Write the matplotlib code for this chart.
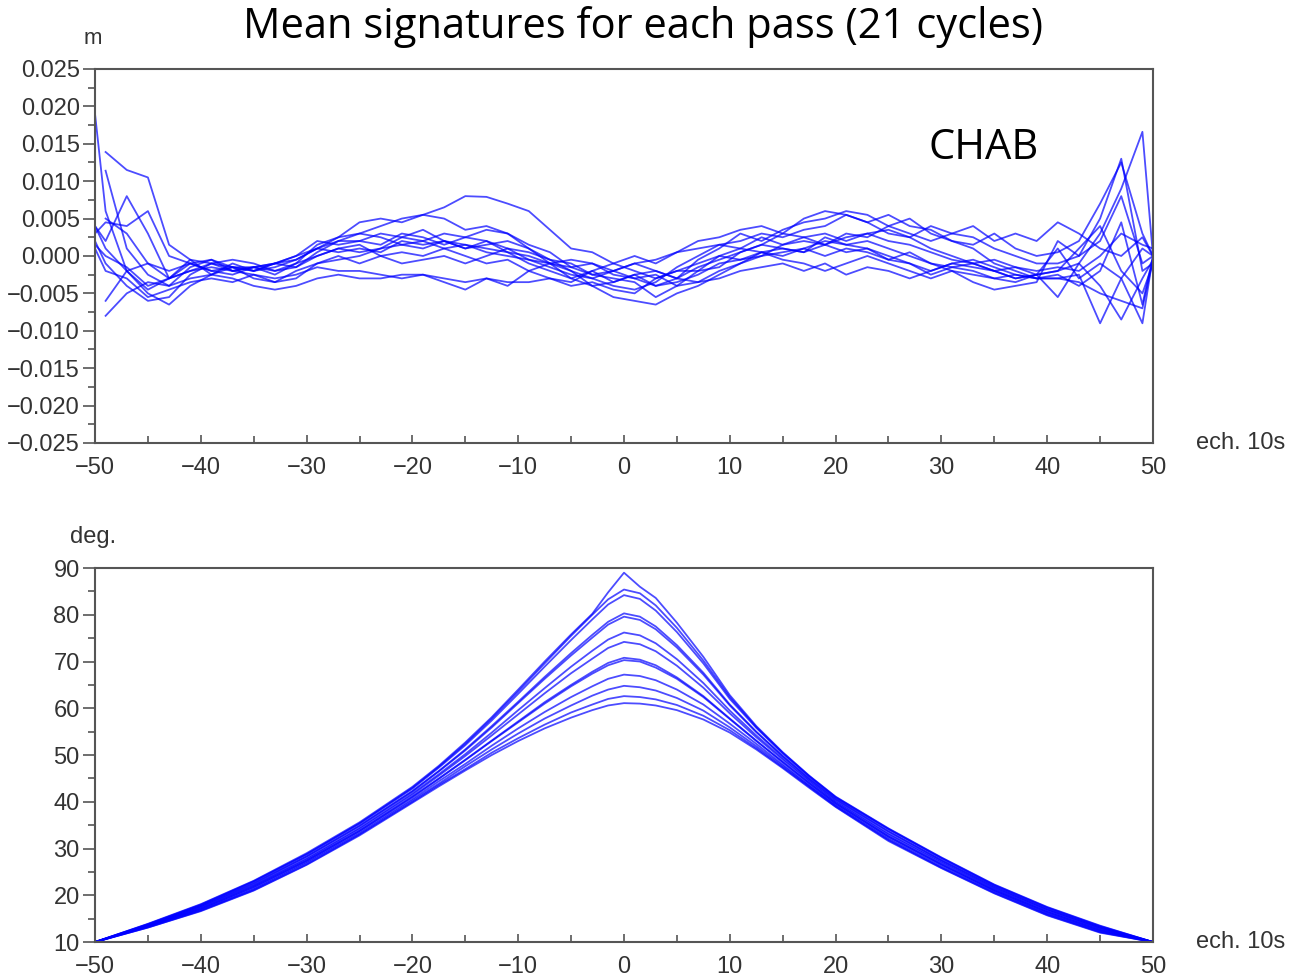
import numpy as np
import matplotlib.pyplot as plt
from matplotlib.ticker import MultipleLocator

plt.rcParams['font.family'] = ['Liberation Sans', 'DejaVu Sans']

# ---- top panel: mean signature (mm), one list per pass ----
x_sig = [-50, -49, -47, -45, -43, -41, -39, -37, -35, -33, -31, -29, -27,
         -25, -23, -21, -19, -17, -15, -13, -11, -9, -7, -5, -3, -1,
         1, 3, 5, 7, 9, 11, 13, 15, 17, 19, 21, 23, 25,
         27, 29, 31, 33, 35, 37, 39, 41, 43, 45, 47, 49, 50]
nan = np.nan
sig_mm = [
    [19, 6, -2, -4.5, -3, -1, -0.5, -1.5, -1.5, -2.5, -1, 1.5, 2.5,
     3, 2.5, 1.5, 2, 3, 2.5, 2, 1, 0.5, -0.5, -2, -3, -4,
     -4.5, -3.5, -1.5, 0, 1.5, 2, 3, 2.5, 3.5, 4, 5.5, 4.5, 3,
     2.5, 1, 0, -1, -0.5, -1.5, -2.5, -2, -1, 3, 9, 16.6, 0],
    [nan, 13.9, 11.5, 10.5, 1.5, -0.5, -1, -2, -1.5, -1, -0.5, 1, 2,
     2, 1.5, 3, 2.5, 1.5, 2.5, 3.5, 3, 1.5, 0.5, -1.5, -2.5, -3,
     -3.5, -5.5, -4, -2, 0, 1, 2.5, 1.5, 2.5, 1.5, 3, 2.5, 4,
     3, 2, 3, 2.5, 1, 0, -1, -1, 0, 5, 13, -2, -1],
    [4, 2, 8, 3, -3, -0.5, -2.5, -1, -2, -1, -1.5, 0.5, 2,
     3, 4, 5, 5.5, 5, 3.5, 4, 3, 1, -1, -3, -2, -3.5,
     -2.5, -4, -3, -0.5, 1, 3, 2, 3.5, 4.5, 5, 6, 5.5, 4,
     5, 3, 2, 1.5, 3, 1, 0, 0.5, 2, 7, 12.5, 3, 0],
    [2, -1, -4, -6, -5.5, -2.5, -1, -0.5, -1, -2, -1, 0, 1,
     0.5, 1, 2.5, 2, 1, 1.5, 0.5, 0, -0.5, -1, -2, -4, -5.5,
     -6, -6.5, -5, -4, -2.5, -1, 0, 0.5, 1, 2, 1.5, 2, 1,
     0, -1, -2, -2.5, -3, -2.5, -3, -3, -2.5, -9, -3, -9, 0],
    [nan, 11.4, 1, -2.5, -4, -1.5, -0.5, -2, -2.5, -3.5, -3, -1, -0.5,
     0, 1, 1.5, 1, 2, 1, 2, 0.5, -1, -2, -3, -4, -3.5,
     -2.5, -2, -3, -1.5, -0.5, 0.5, 1.5, 1, 0.5, 2.5, 1.5, 1, -0.5,
     0.5, -1, -1.5, -2, -3, -3.5, -2.5, -2, 1, 4, -2, -5, -1],
    [1.5, 0, -1.5, -4, -3, -2, -1, -1.5, -2, -1, 0, 2, 1.5,
     2, 3, 2.5, 3.5, 2, 1.5, 1, 0.5, 0, -1, -1.5, -1, -2,
     -1, -0.5, 0.5, 2, 2.5, 3.5, 4, 3, 2.5, 3, 2, 3, 3.5,
     2.5, 4, 3, 4, 2, 3, 2, 4.5, 3, 1, 0, 2.5, 0],
    [nan, -6, -2, -5, -6.5, -4, -2.5, -1.5, -3, -3.5, -2, -1, 0,
     -1, 0, 0.5, 0, 1, 0, -1, -0.5, -2, -3, -4, -3.5, -4.5,
     -5, -3, -2, -1, 0, -0.5, 0.5, 1, 0.5, 1.5, 0.5, 1, 0,
     -1, -2.5, -1.5, -1, -2, -3, -2.5, -5.5, -1, -4, -8.5, -3, -0.5],
    [nan, -8, -5, -3.5, -4, -3, -2.5, -3, -4, -4.5, -4, -3, -2.5,
     -3, -3, -2.5, -2.5, -3, -3.5, -3, -3.5, -3.5, -3, -3.5, -2, -1,
     0, -1, 0.5, 1, 1.5, 1, 0.5, -0.5, -1, -2, -1, 0, -1,
     -2, -3, -2, -3.5, -4.5, -4, -3.5, 2, 0, 2, 8, -1, 0],
    [3, 4.5, 4, 6, 0, -1, -2, -1.5, -2, -1.5, -0.5, 1, 2.5,
     4.5, 5, 4.5, 5.5, 6.5, 8, 7.9, 7, 6, 3.5, 1, 0.5, -1,
     -2, -3, -2, -2, -1.5, 0.5, 1.5, 3, 5, 6, 5.5, 4.5, 5.5,
     4, 3.5, 2, 1, -1, -2, -3, -3, -3.5, -5, -6, -7, -0.5],
    [4, 1, -2, -1, -3, -2, -1.5, -2, -1.5, -1, 0, 1, 0.5,
     1, 0.5, 2, 1.5, 2, 1, 1.5, 2, 1, -0.5, -1, -2.5, -2,
     -3, -4, -3.5, -2.5, -1, -0.5, 0, 1.5, 2, 1.5, 2.5, 3, 2,
     1.5, 0.5, -0.5, -1, -2, -1.5, -2, -1.5, -2, 0, 3, 1.5, 1],
    [nan, 5, 3, -1, -2, -1, -2, -2.5, -1.5, -2, -1.5, 0, 1,
     1.5, 0, -1, -0.5, 0, -1, 0, 1, -0.5, -1.5, -2.5, -3, -2,
     -1, -2, -3, -3.5, -2, -1, 0.5, 0, 1, 0, 1, 0.5, -0.5,
     -1, -2, -1, -0.5, -1.5, -2.5, -3, -2.5, -4, -2, 4.5, -6.5, 0],
    [1, -2, -3, -5.5, -4.5, -3.5, -3, -3.5, -2.5, -3, -2.5, -1.5, -2,
     -2, -2.5, -3, -2.5, -3.5, -4.5, -3, -4, -2, -1, -0.5, -1, -2.5,
     -3, -2.5, -4, -3.5, -3, -2, -1.5, -1, -2, -1, -2.5, -1.5, -2,
     -3, -2, -1, -1.5, -2, -3, -2.5, 1, -3, -1, -3, 1, 0],
]

# ---- bottom panel: elevation (deg), one list per pass ----
x_elev = [-50, -45, -40, -35, -30, -25, -20, -17.5, -15, -12.5, -10, -7.5, -5, -3, -1.5, 0,
          1.5, 3, 5, 7.5, 10, 12.5, 15, 17.5, 20, 25, 30, 35, 40, 45, 50]
elev = [
    [10, 13.9, 18.1, 23.1, 29.0, 35.6, 43.2, 47.7, 52.7, 58.1, 64.0, 70.0, 75.8, 80.2, 84.8, 89.0,
     86.0, 83.6, 78.3, 71.0, 62.8, 56.2, 50.6, 45.6, 41.1, 34.3, 28.1, 22.3, 17.5, 13.5, 10],
    [10, 13.8, 18.0, 23.0, 28.8, 35.4, 43.0, 47.5, 52.4, 57.8, 63.6, 69.6, 75.5, 80.0, 83.3, 85.4,
     84.6, 82.0, 77.2, 70.2, 62.4, 56.0, 50.5, 45.5, 41.0, 34.2, 28.0, 22.2, 17.4, 13.4, 10],
    [10, 13.8, 17.9, 22.9, 28.7, 35.3, 42.8, 47.3, 52.1, 57.4, 63.1, 68.9, 74.6, 79.0, 82.2, 84.2,
     83.4, 80.9, 76.3, 69.6, 62.0, 55.8, 50.3, 45.4, 40.9, 34.1, 27.9, 22.1, 17.3, 13.3, 10],
    [10, 13.7, 17.7, 22.6, 28.3, 34.9, 42.3, 46.6, 51.2, 56.2, 61.4, 66.7, 71.8, 75.7, 78.5, 80.3,
     79.6, 77.5, 73.5, 67.6, 60.8, 55.0, 49.8, 45.0, 40.6, 33.7, 27.5, 21.8, 17.0, 13.1, 10],
    [10, 13.6, 17.7, 22.5, 28.3, 34.8, 42.2, 46.5, 51.0, 55.9, 61.1, 66.3, 71.3, 75.1, 77.9, 79.6,
     78.9, 76.9, 73.0, 67.2, 60.6, 54.9, 49.7, 44.9, 40.5, 33.6, 27.5, 21.8, 17.0, 13.1, 10],
    [10, 13.5, 17.5, 22.2, 27.9, 34.4, 41.8, 45.9, 50.2, 54.8, 59.6, 64.3, 68.9, 72.3, 74.7, 76.2,
     75.6, 73.9, 70.5, 65.4, 59.5, 54.2, 49.3, 44.6, 40.2, 33.2, 27.2, 21.5, 16.8, 12.9, 10],
    [10, 13.5, 17.4, 22.1, 27.7, 34.2, 41.5, 45.6, 49.8, 54.2, 58.7, 63.2, 67.5, 70.6, 72.9, 74.2,
     73.7, 72.2, 69.1, 64.4, 58.9, 53.8, 49.0, 44.4, 40.0, 33.0, 27.0, 21.4, 16.6, 12.8, 10],
    [10, 13.4, 17.2, 21.8, 27.4, 33.8, 41.1, 45.0, 49.0, 53.1, 57.2, 61.3, 65.0, 67.8, 69.7, 70.8,
     70.4, 69.2, 66.6, 62.6, 57.8, 53.1, 48.5, 44.0, 39.7, 32.6, 26.7, 21.1, 16.4, 12.6, 10],
    [10, 13.4, 17.1, 21.8, 27.4, 33.8, 41.0, 44.9, 48.9, 53.0, 57.0, 61.0, 64.7, 67.4, 69.2, 70.3,
     70.0, 68.7, 66.3, 62.4, 57.7, 53.0, 48.5, 44.0, 39.7, 32.6, 26.6, 21.1, 16.4, 12.5, 10],
    [10, 13.3, 17.0, 21.5, 27.1, 33.5, 40.6, 44.4, 48.1, 52.0, 55.7, 59.2, 62.4, 64.7, 66.3, 67.2,
     66.9, 66.0, 64.0, 60.8, 56.7, 52.4, 48.0, 43.6, 39.4, 32.3, 26.4, 20.9, 16.1, 12.4, 10],
    [10, 13.2, 16.8, 21.3, 26.9, 33.2, 40.3, 43.9, 47.6, 51.2, 54.6, 57.8, 60.6, 62.7, 64.0, 64.8,
     64.5, 63.8, 62.2, 59.5, 55.9, 51.9, 47.7, 43.4, 39.2, 32.0, 26.1, 20.7, 16.0, 12.2, 10],
    [10, 13.1, 16.7, 21.1, 26.6, 33.0, 40.0, 43.6, 47.0, 50.5, 53.6, 56.5, 59.1, 60.8, 62.0, 62.6,
     62.4, 61.9, 60.7, 58.4, 55.3, 51.5, 47.4, 43.2, 39.0, 31.8, 25.9, 20.5, 15.8, 12.1, 10],
    [10, 13.1, 16.6, 21.0, 26.5, 32.8, 39.8, 43.3, 46.7, 50.0, 53.0, 55.7, 58.0, 59.6, 60.6, 61.1,
     61.0, 60.6, 59.6, 57.6, 54.8, 51.2, 47.2, 43.0, 38.9, 31.6, 25.8, 20.4, 15.7, 12.0, 10],
]

line_col = (0, 0, 1, 0.7)
axis_col = '#555555'
text_col = '#333333'

fig = plt.figure(figsize=(12.91, 9.77), dpi=100)
ax1 = fig.add_axes([0.0736, 0.5466, 0.8195, 0.3828])
ax2 = fig.add_axes([0.0736, 0.0358, 0.8195, 0.3828])

for s in sig_mm:
    ax1.plot(x_sig, np.array(s) / 1000.0, color=line_col, linewidth=1.3)
for e in elev:
    ax2.plot(x_elev, e, color=line_col, linewidth=1.3)


def style(ax):
    ax.set_xlim(-50, 50)
    ax.xaxis.set_major_locator(MultipleLocator(10))
    ax.xaxis.set_minor_locator(MultipleLocator(5))
    for sp in ax.spines.values():
        sp.set_color(axis_col)
        sp.set_linewidth(1.5)
    ax.tick_params(which='major', length=9, width=1.2, color=axis_col,
                   labelsize=17, labelcolor=text_col, direction='out', pad=2)
    ax.tick_params(which='minor', length=5, width=1.2, color=axis_col,
                   direction='out')
    ax.tick_params(axis='x', which='major', direction='in', length=6, pad=10)
    ax.tick_params(axis='x', which='minor', direction='in', length=5)


style(ax1)
ax1.set_ylim(-0.025, 0.025)
ax1.yaxis.set_major_locator(MultipleLocator(0.005))
ax1.yaxis.set_minor_locator(MultipleLocator(0.0025))
ax1.yaxis.set_major_formatter(plt.FuncFormatter(
    lambda v, p: ('%.3f' % v).replace('-', '\u2212') if abs(v) > 1e-9 else '0.000'))

style(ax2)
ax2.set_ylim(10, 90)
ax2.yaxis.set_major_locator(MultipleLocator(10))
ax2.yaxis.set_minor_locator(MultipleLocator(5))

fig.text(0.498, 0.972, 'Mean signatures for each pass (21 cycles)',
         ha='center', va='center', fontsize=30, family=['Open Sans', 'DejaVu Sans'])
fig.text(0.762, 0.849, 'CHAB', ha='center', va='center', fontsize=30,
         family=['Open Sans', 'DejaVu Sans'])
fig.text(0.072, 0.961, 'm', ha='center', va='center', fontsize=16, color=text_col)
fig.text(0.072, 0.450, 'deg.', ha='center', va='center', fontsize=17, color=text_col)
fig.text(0.961, 0.547, 'ech. 10s', ha='center', va='center', fontsize=17, color=text_col)
fig.text(0.961, 0.036, 'ech. 10s', ha='center', va='center', fontsize=17, color=text_col)

fig.savefig('out.png', dpi=100)
